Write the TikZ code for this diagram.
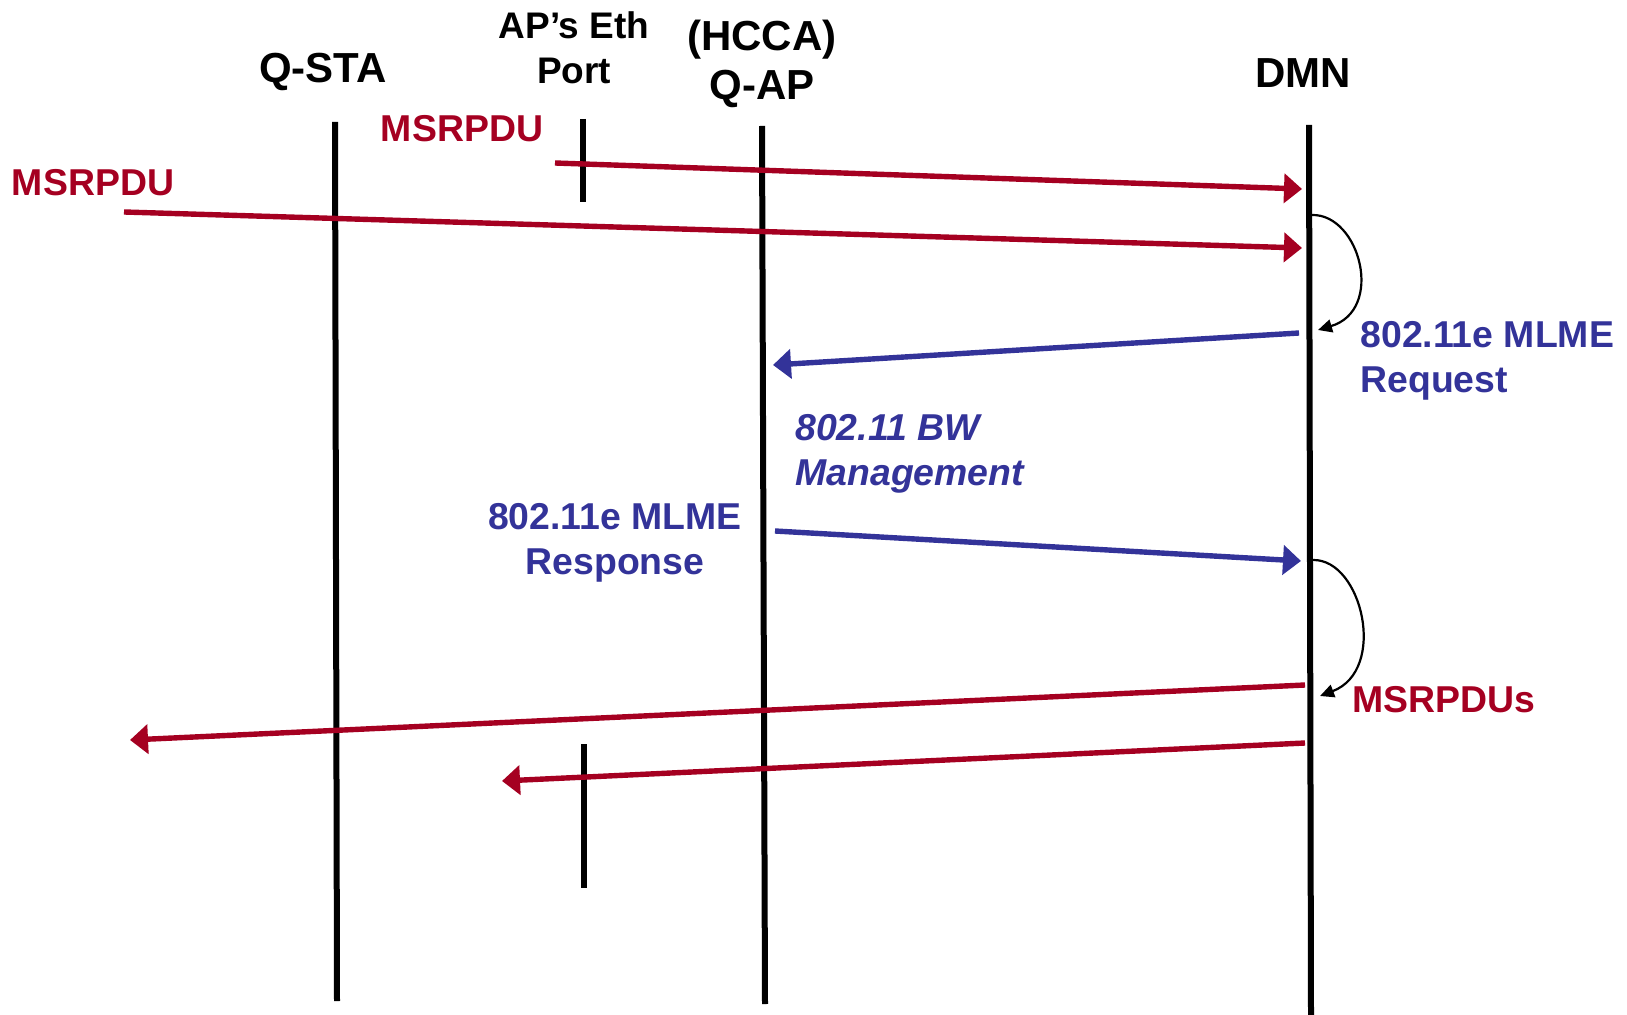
\documentclass[tikz,border=0pt]{standalone}
\usepackage{fontspec}
\setmainfont{Liberation Sans}
\usetikzlibrary{arrows.meta}
\definecolor{msrred}{HTML}{A50021}
\definecolor{mlmeblue}{HTML}{333399}

\begin{document}
\begin{tikzpicture}[
    x=0.5pt, y=-0.5pt,
    every node/.style={font=\fontsize{18.7}{22.5}\selectfont\bfseries, inner sep=0pt},
    head/.style={align=center, font=\fontsize{21}{24.5}\selectfont\bfseries},
    lifeline/.style={line width=3pt},
    msg/.style={-{Triangle[length=9pt,width=14.5pt]}, line width=2.7pt},
    redmsg/.style={msg, draw=msrred, fill=msrred},
    bluemsg/.style={msg, draw=mlmeblue, fill=mlmeblue},
    loopback/.style={-{Triangle[length=7pt,width=6.5pt]}, line width=1.1pt},
    redlabel/.style={text=msrred},
    bluelabel/.style={text=mlmeblue, align=left}
]
\useasboundingbox (0,0) rectangle (1627,1015);

\node[head] (sta) at (323,72) {Q-STA};
\node[head, font=\fontsize{18.5}{22.5}\selectfont\bfseries] (eth) at (574,48) {AP’s Eth\\Port};
\node[head] (qap) at (762,64) {(HCCA)\\Q-AP};
\node[head] (dmn) at (1303,73) {DMN};

\coordinate (sta-top) at (335,122);
\coordinate (sta-bot) at (337,1001);
\coordinate (eth-top) at (583,119);
\coordinate (eth-mid) at (583,202);
\coordinate (eth-low) at (584,744);
\coordinate (eth-bot) at (584,888);
\coordinate (qap-top) at (762,126);
\coordinate (qap-bot) at (765,1004);
\coordinate (dmn-top) at (1309,125);
\coordinate (dmn-bot) at (1311,1015);

\draw[lifeline] (sta-top) -- (sta-bot);
\draw[lifeline] (eth-top) -- (eth-mid);
\draw[lifeline] (eth-low) -- (eth-bot);
\draw[lifeline] (qap-top) -- (qap-bot);
\draw[lifeline] (dmn-top) -- (dmn-bot);

\coordinate (in1) at (555,163);
\coordinate (out1) at (1302,189);
\coordinate (in2) at (124,212);
\coordinate (out2) at (1302,248);
\coordinate (req-s) at (1299,333);
\coordinate (req-e) at (773,365);
\coordinate (rsp-s) at (775,531);
\coordinate (rsp-e) at (1301,561);
\coordinate (dn1-s) at (1305,685);
\coordinate (dn1-e) at (130,740);
\coordinate (dn2-s) at (1305,743);
\coordinate (dn2-e) at (502,781);
\coordinate (turn1-s) at (1312,215);
\coordinate (turn1-e) at (1318,330);
\coordinate (turn2-s) at (1313,560);
\coordinate (turn2-e) at (1320,696);

\node[redlabel] (pdu1) at (462,129) {MSRPDU};
\node[redlabel] (pdu2) at (93,183) {MSRPDU};
\node[bluelabel, anchor=west] (req) at (1360,361) {802.11e MLME\\Request};
\node[bluelabel, anchor=west] (bw) at (795,454) {\itshape 802.11 BW\\\itshape Management};
\node[bluelabel, align=center] (rsp) at (615,543) {802.11e MLME\\Response};
\node[redlabel, anchor=west] (pdus) at (1352,700) {MSRPDUs};

\draw[redmsg] (in1) -- (out1);
\draw[redmsg] (in2) -- (out2);
\draw[loopback] (turn1-s) .. controls (1360,214) and (1385,310) .. (turn1-e);
\draw[bluemsg] (req-s) -- (req-e);
\draw[bluemsg] (rsp-s) -- (rsp-e);
\draw[loopback] (turn2-s) .. controls (1362,559) and (1388,670) .. (turn2-e);
\draw[redmsg] (dn1-s) -- (dn1-e);
\draw[redmsg] (dn2-s) -- (dn2-e);
\end{tikzpicture}
\end{document}
